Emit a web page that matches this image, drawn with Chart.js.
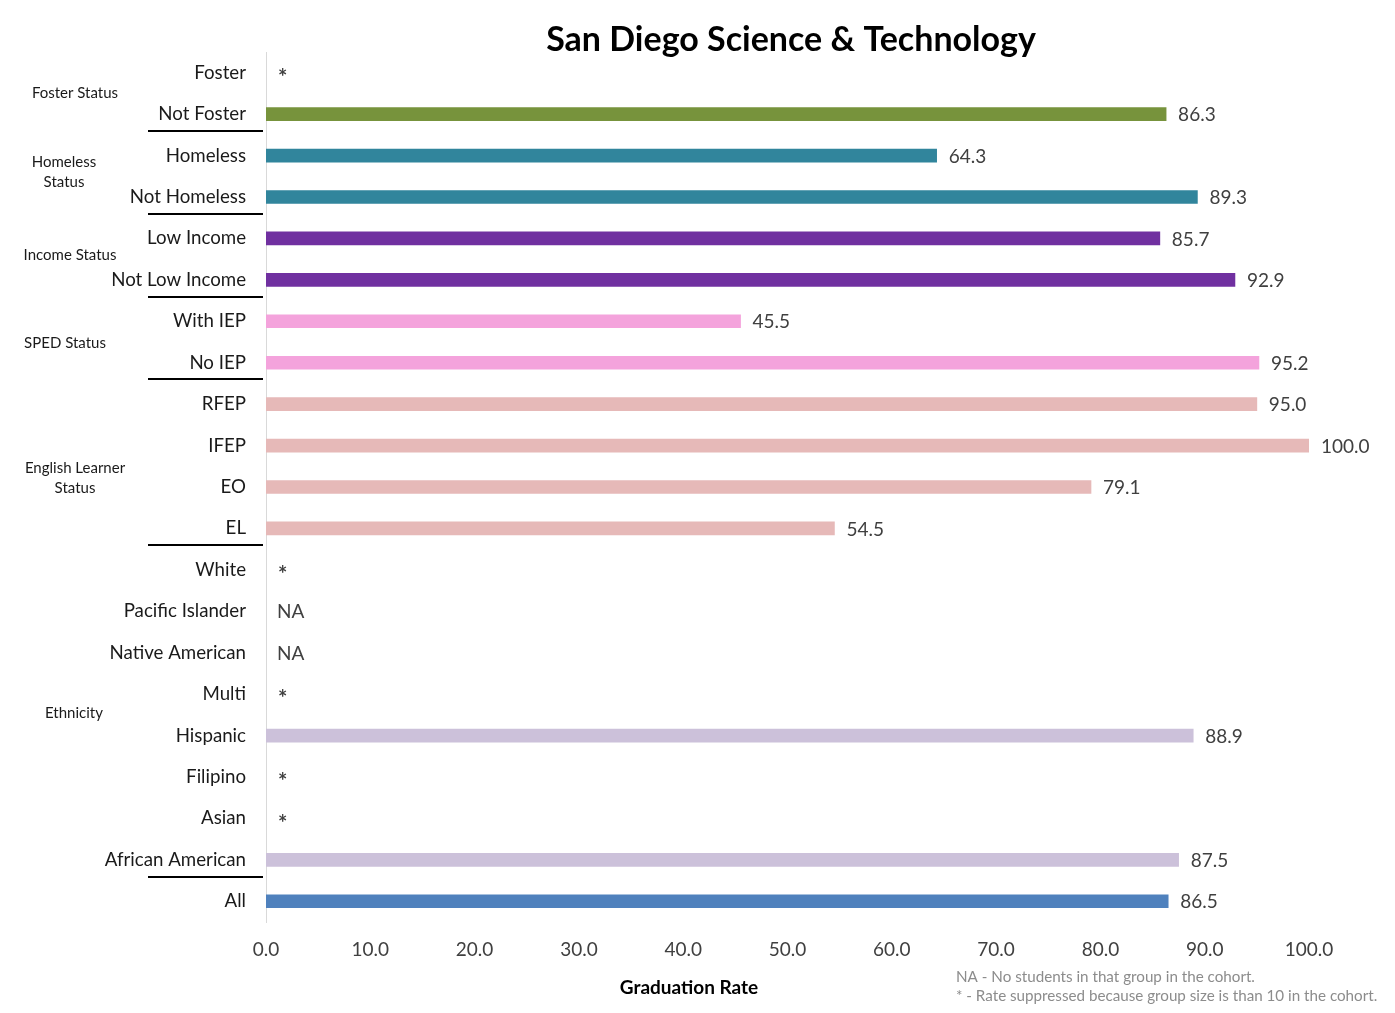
<!DOCTYPE html>
<html>
<head>
<meta charset="utf-8">
<script src="https://cdn.jsdelivr.net/npm/chart.js@4"></script>
<style>
  html,body{margin:0;padding:0;background:#fff;}
  canvas{display:block;}
</style>
</head>
<body>
<canvas id="c" width="1395" height="1013"></canvas>
<script>
// ---- data ----
const categories = ['Foster','Not Foster','Homeless','Not Homeless','Low Income','Not Low Income','With IEP','No IEP','RFEP','IFEP','EO','EL','White','Pacific Islander','Native American','Multi','Hispanic','Filipino','Asian','African American','All'];
const values = [null,86.3,64.3,89.3,85.7,92.9,45.5,95.2,95.0,100.0,79.1,54.5,null,null,null,null,88.9,null,null,87.5,86.5];
const markers = ['*','','','','','','','','','','','','*','NA','NA','*','','*','*','',''];
const groupNames = [['Foster Status'],['Homeless','Status'],['Income Status'],['SPED Status'],['English Learner','Status'],['Ethnicity'],[]];
const groupStart = [0,2,4,6,8,12,20];
const groupEnd   = [1,3,5,7,11,19,20];
const groupColors = ['#77933C','#31859C','#7030A0','#F4A3DC','#E6B9B8','#CCC1DA','#4F81BD'];
const xTicks = [0,10,20,30,40,50,60,70,80,90,100];
const title = 'San Diego Science & Technology';
const xTitle = 'Graduation Rate';
const notes = ['NA - No students in that group in the cohort.','* - Rate suppressed because group size is than 10 in the cohort.'];

// style per group label (x center, y nudge)
const groupLabelX = [75,64,70,65,75,74,0];
const groupLabelDY = [0,-4,-4,1,12,-2,0];

const barColors = categories.map((c,i)=>{
  for(let g=0; g<groupStart.length; g++){ if(i>=groupStart[g] && i<=groupEnd[g]) return groupColors[g]; }
  return '#888';
});

const FONT = 'Lato, "Open Sans", sans-serif';

const overlay = {
  id:'overlay',
  afterDraw(chart){
    const ctx = chart.ctx;
    const xs = chart.scales.x, ys = chart.scales.y;
    ctx.save();
    // title
    ctx.fillStyle = '#000';
    ctx.font = 'bold 34px ' + FONT;
    ctx.textAlign = 'center'; ctx.textBaseline = 'middle';
    ctx.fillText(title, 791, 40);
    // value labels / markers
    ctx.fillStyle = '#404040';
    ctx.textAlign = 'left';
    categories.forEach((c,i)=>{
      const y = ys.getPixelForValue(i);
      if(values[i] !== null){
        ctx.font = '19px ' + FONT;
        ctx.fillText(values[i].toFixed(1), xs.getPixelForValue(values[i]) + 12, y + 1);
      } else if(markers[i] === '*'){
        ctx.font = 'bold 22px ' + FONT;
        ctx.fillText('*', xs.getPixelForValue(0) + 12, y + 5);
      } else if(markers[i]){
        ctx.font = '19px ' + FONT;
        ctx.fillText(markers[i], xs.getPixelForValue(0) + 11, y + 1);
      }
    });
    // group labels
    ctx.font = '15px ' + FONT;
    ctx.fillStyle = '#1a1a1a';
    ctx.textAlign = 'center';
    groupNames.forEach((lines,g)=>{
      if(!lines.length) return;
      const yc = (ys.getPixelForValue(groupStart[g]) + ys.getPixelForValue(groupEnd[g]))/2 + groupLabelDY[g];
      const lh = 20;
      lines.forEach((t,k)=>{
        ctx.fillText(t, groupLabelX[g], yc + (k - (lines.length-1)/2)*lh);
      });
    });
    // separators
    ctx.strokeStyle = '#000'; ctx.lineWidth = 2;
    for(let g=0; g<groupStart.length-1; g++){
      const y = Math.round((ys.getPixelForValue(groupEnd[g]) + ys.getPixelForValue(groupStart[g+1]))/2) - 4;
      ctx.beginPath(); ctx.moveTo(148, y); ctx.lineTo(263, y); ctx.stroke();
    }
    // x axis title
    ctx.font = 'bold 19px ' + FONT;
    ctx.fillStyle = '#000';
    ctx.textAlign = 'center';
    ctx.fillText(xTitle, 689, 988);
    // notes
    ctx.font = '15.2px ' + FONT;
    ctx.fillStyle = '#8c8c8c';
    ctx.textAlign = 'left';
    ctx.fillText(notes[0], 956, 977);
    ctx.fillText(notes[1], 956, 996);
    ctx.restore();
  }
};

new Chart(document.getElementById('c'), {
  type:'bar',
  data:{
    labels: categories,
    datasets:[{
      data: values,
      backgroundColor: barColors,
      borderWidth: 0,
      barThickness: 13
    }]
  },
  options:{
    indexAxis:'y',
    responsive:false,
    animation:false,
    devicePixelRatio:1,
    layout:{padding:{top:52,right:86,left:0,bottom:0}},
    plugins:{legend:{display:false},tooltip:{enabled:false},title:{display:false}},
    scales:{
      y:{
        grid:{display:false,drawTicks:false},
        border:{display:true,color:'#D9D9D9',width:1},
        ticks:{autoSkip:false,padding:20,color:'#1a1a1a',font:{family:FONT,size:18.7}},
        afterFit(s){ s.width = 266; }
      },
      x:{
        min:0,max:100,
        grid:{display:false,drawTicks:false},
        border:{display:false},
        afterBuildTicks(s){ s.ticks = xTicks.map(v=>({value:v})); },
        ticks:{padding:16,color:'#404040',font:{family:FONT,size:19},callback:v=>Number(v).toFixed(1),maxRotation:0,autoSkip:false},
        afterFit(s){ s.height = 91; }
      }
    }
  },
  plugins:[overlay]
});
</script>
</body>
</html>
